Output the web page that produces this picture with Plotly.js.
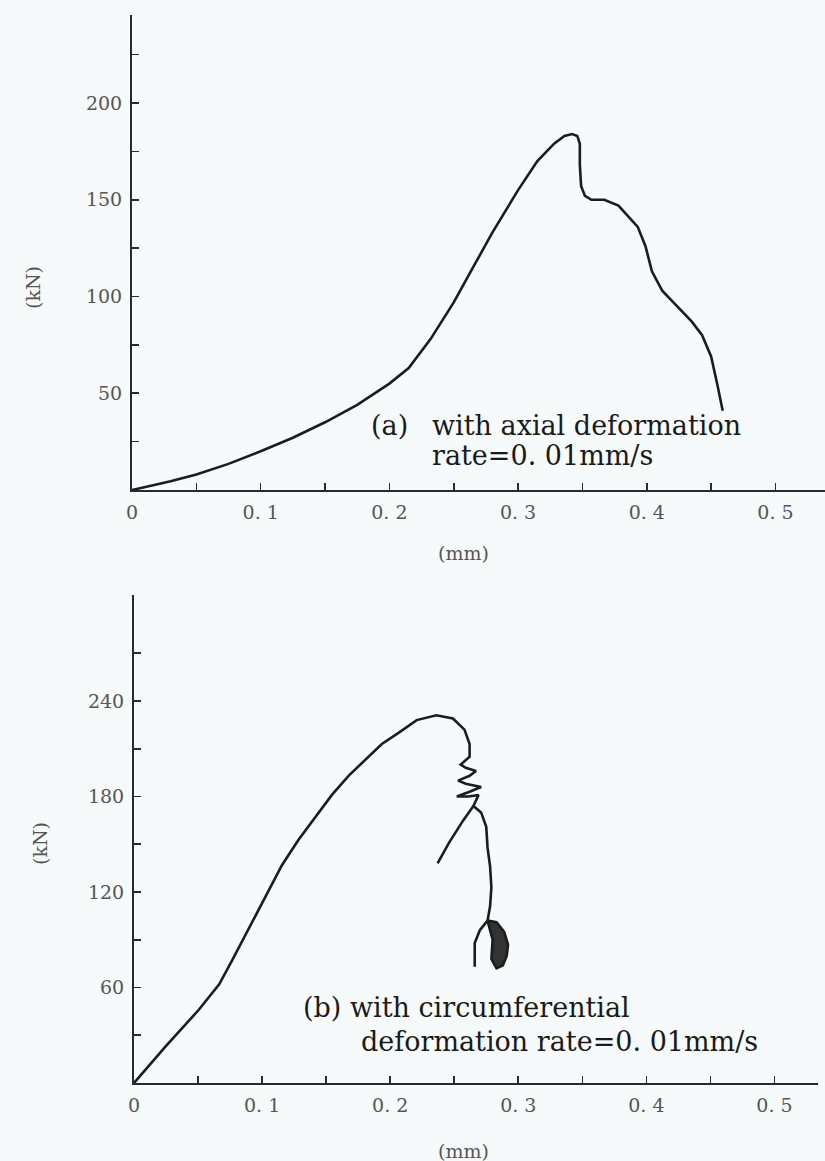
<!DOCTYPE html>
<html>
<head>
<meta charset="utf-8">
<script src="https://cdn.plot.ly/plotly-3.0.1.min.js"></script>
<style>
  html, body { margin: 0; padding: 0; background: #f6fafa; }
  #chart { width: 825px; height: 1161px; }
</style>
</head>
<body>
<div id="chart"></div>
<script>
// ---------- Data (a): axial deformation rate = 0.01 mm/s ----------
const aDisp = [0, 0.01, 0.03, 0.05, 0.075, 0.1, 0.125, 0.15, 0.175, 0.2, 0.215, 0.232, 0.25, 0.265, 0.28, 0.3, 0.315, 0.328, 0.336, 0.342, 0.346, 0.348, 0.348, 0.349, 0.352, 0.357, 0.367, 0.378, 0.386, 0.393, 0.399, 0.404, 0.412, 0.422, 0.435, 0.443, 0.45, 0.455, 0.459];
const aLoad = [0, 1.5, 4.5, 8, 13.5, 20, 27, 35, 44, 55, 63, 78, 97, 115, 133, 155, 170, 179, 183, 184, 183, 179, 168, 157, 152, 150, 150, 147, 141, 136, 126, 113, 103, 96, 87, 80, 69, 54, 41];

// ---------- Data (b): circumferential deformation rate = 0.01 mm/s ----------
const bDisp = [0, 0.0247, 0.0506, 0.0665, 0.0766, 0.0896, 0.1026, 0.1156, 0.1286, 0.1416, 0.1545, 0.1675, 0.1805, 0.1935, 0.2065, 0.2207, 0.236, 0.249, 0.258, 0.262, 0.262,
               0.255, 0.259, 0.267, 0.262, 0.253, 0.259, 0.271, 0.262, 0.252, 0.261, 0.269, 0.265,
               0.271, 0.275, 0.276, 0.278, 0.279, 0.278, 0.276];
const bLoad = [0, 23, 46, 62, 77, 97, 118, 137, 153, 167, 181, 193, 203, 213, 220, 228, 231, 229, 222, 213, 205,
               200, 198, 196, 193, 190, 188, 186, 183, 180, 180, 181, 174,
               170, 161, 148, 136, 123, 111, 102];
// branch leaving the zig-zag towards lower left
const bBranchDisp = [0.265, 0.257, 0.246, 0.237];
const bBranchLoad = [174, 165, 151, 138];
// hook at the end of the test
const bHookDisp = [0.276, 0.270, 0.266, 0.266];
const bHookLoad = [102, 96, 88, 73];
// dense scribble (dark blob) near the end
const bBlobDisp = [0.276, 0.283, 0.289, 0.292, 0.291, 0.288, 0.283, 0.279, 0.280, 0.276];
const bBlobLoad = [102, 101, 95, 87, 80, 74, 72, 78, 90, 102];

// ---------- Tick labels ----------
const xTickVals = [0, 0.05, 0.1, 0.15, 0.2, 0.25, 0.3, 0.35, 0.4, 0.45, 0.5];
const xTickText = ['0', '', '0. 1', '', '0. 2', '', '0. 3', '', '0. 4', '', '0. 5'];
const aYTickVals = [25, 50, 75, 100, 125, 150, 175, 200, 225];
const aYTickText = ['', '50', '', '100', '', '150', '', '200', ''];
const bYTickVals = [30, 60, 90, 120, 150, 180, 210, 240, 270];
const bYTickText = ['', '60', '', '120', '', '180', '', '240', ''];

const W = 825, H = 1161;
const px = v => v / W;
const py = v => 1 - v / H;

const lineCol = '#1c1c1c';
const tickFont = { family: 'DejaVu Serif, serif', size: 19, color: '#555' };
const noteFont = { family: 'DejaVu Serif, serif', size: 27, color: '#1a1a1a' };
const labFont = { family: 'DejaVu Serif, serif', size: 19, color: '#555' };

const traces = [
  { x: aDisp, y: aLoad, xaxis: 'x', yaxis: 'y', mode: 'lines',
    line: { color: lineCol, width: 2.6 }, hoverinfo: 'skip' },
  { x: bDisp, y: bLoad, xaxis: 'x2', yaxis: 'y2', mode: 'lines',
    line: { color: lineCol, width: 2.6 }, hoverinfo: 'skip' },
  { x: bBranchDisp, y: bBranchLoad, xaxis: 'x2', yaxis: 'y2', mode: 'lines',
    line: { color: lineCol, width: 2.6 }, hoverinfo: 'skip' },
  { x: bHookDisp, y: bHookLoad, xaxis: 'x2', yaxis: 'y2', mode: 'lines',
    line: { color: lineCol, width: 2.6 }, hoverinfo: 'skip' },
  { x: bBlobDisp, y: bBlobLoad, xaxis: 'x2', yaxis: 'y2', mode: 'lines',
    fill: 'toself', fillcolor: '#333', line: { color: lineCol, width: 2.6 }, hoverinfo: 'skip' }
];

const axisCommon = {
  showline: true, linecolor: '#2a2a2a', linewidth: 2,
  ticks: 'inside', ticklen: 7, tickwidth: 1.6, tickcolor: '#2a2a2a',
  showgrid: false, zeroline: false, tickfont: tickFont, fixedrange: true
};

const layout = {
  width: W, height: H,
  margin: { l: 0, r: 0, t: 0, b: 0 },
  paper_bgcolor: '#f6fafa', plot_bgcolor: 'rgba(0,0,0,0)',
  showlegend: false,
  xaxis: Object.assign({}, axisCommon, {
    domain: [px(132), 1], range: [0, 0.5385], anchor: 'y',
    tickmode: 'array', tickvals: xTickVals, ticktext: xTickText, ticklabelstandoff: 4
  }),
  yaxis: Object.assign({}, axisCommon, {
    domain: [py(490), py(15)], range: [0, 245.5], anchor: 'x',
    tickmode: 'array', tickvals: aYTickVals, ticktext: aYTickText, ticklabelstandoff: 4
  }),
  xaxis2: Object.assign({}, axisCommon, {
    domain: [px(134), px(818)], range: [0, 0.534], anchor: 'y2',
    tickmode: 'array', tickvals: xTickVals, ticktext: xTickText, ticklabelstandoff: 4
  }),
  yaxis2: Object.assign({}, axisCommon, {
    domain: [py(1083), py(595)], range: [0, 306.6], anchor: 'x2',
    tickmode: 'array', tickvals: bYTickVals, ticktext: bYTickText, ticklabelstandoff: 4
  }),
  annotations: [
    { text: '(a)', xref: 'paper', yref: 'paper', x: px(369), y: py(425), xanchor: 'left', yanchor: 'middle', showarrow: false, font: noteFont },
    { text: 'with axial deformation', xref: 'paper', yref: 'paper', x: px(430), y: py(425), xanchor: 'left', yanchor: 'middle', showarrow: false, font: noteFont },
    { text: 'rate=0. 01mm/s', xref: 'paper', yref: 'paper', x: px(430), y: py(455), xanchor: 'left', yanchor: 'middle', showarrow: false, font: noteFont },
    { text: '(b) with circumferential', xref: 'paper', yref: 'paper', x: px(301), y: py(1007), xanchor: 'left', yanchor: 'middle', showarrow: false, font: noteFont },
    { text: 'deformation rate=0. 01mm/s', xref: 'paper', yref: 'paper', x: px(359), y: py(1041), xanchor: 'left', yanchor: 'middle', showarrow: false, font: noteFont },
    { text: '(kN)', xref: 'paper', yref: 'paper', x: px(33), y: py(288), xanchor: 'center', yanchor: 'middle', textangle: -90, showarrow: false, font: labFont },
    { text: '(kN)', xref: 'paper', yref: 'paper', x: px(40), y: py(844), xanchor: 'center', yanchor: 'middle', textangle: -90, showarrow: false, font: labFont },
    { text: '(mm)', xref: 'paper', yref: 'paper', x: px(464), y: py(553), xanchor: 'center', yanchor: 'middle', showarrow: false, font: labFont },
    { text: '(mm)', xref: 'paper', yref: 'paper', x: px(464), y: py(1151), xanchor: 'center', yanchor: 'middle', showarrow: false, font: labFont }
  ]
};

Plotly.newPlot('chart', traces, layout, { staticPlot: true, displayModeBar: false });
</script>
</body>
</html>
